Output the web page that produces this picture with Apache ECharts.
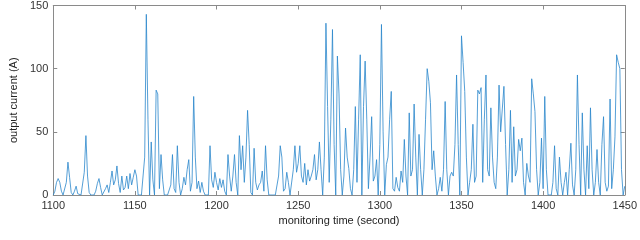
<!DOCTYPE html>
<html>
<head>
<meta charset="utf-8">
<script src="https://cdn.jsdelivr.net/npm/echarts@6/dist/echarts.min.js"></script>
<style>html,body{margin:0;padding:0;background:#fff}#c{width:640px;height:240px}</style>
</head>
<body>
<div id="c"></div>
<script>
const startSecond = 1100;
const xTicks = [1100, 1150, 1200, 1250, 1300, 1350, 1400, 1450];
const yTicks = [0, 50, 100, 150];
const xTitle = 'monitoring time (second)';
const yTitle = 'output current (A)';
// output current (A), one sample per second from 1100 s to 1450 s
const current = [
  0,3,10,13,10,3,0,0,10,26,
  14,2,0,3,7,1,0,0,0,18,
  47,15,2,0,0,0,3,9,13,6,
  0,0,5,8,2,10,19,8,12,23,
  9,2,15,4,6,15,5,17,8,14,
  20,15,0,0,0,0,30,143,60,0,
  42,12,0,83,80,5,32,12,0,0,
  0,0,8,32,5,2,39,10,0,5,
  14,8,20,28,3,10,78,30,5,11,
  2,10,3,0,0,0,39,12,6,18,
  10,4,13,6,12,3,0,32,15,3,
  15,32,10,0,47,20,39,10,30,67,
  40,2,0,37,10,4,8,10,19,3,
  39,12,0,0,0,0,0,0,15,39,
  30,3,5,18,10,0,0,20,39,18,
  25,39,15,10,25,8,20,11,15,20,
  32,12,20,42,20,0,30,136,70,10,
  60,131,40,0,110,80,20,0,15,53,
  30,21,5,0,20,70,10,60,111,0,
  70,106,60,5,30,62,11,15,28,0,
  40,135,50,0,24,30,60,82,5,3,
  14,6,3,19,10,44,15,0,65,15,
  20,72,30,0,48,20,0,20,60,100,
  90,73,20,35,15,0,5,14,3,20,
  74,20,0,15,18,15,40,95,40,0,
  126,105,82,30,0,10,20,56,10,15,
  83,80,85,10,60,95,20,15,69,30,
  10,5,30,87,50,50,86,40,0,20,
  67,10,54,15,20,44,35,45,10,0,
  25,15,10,92,80,66,20,0,10,45,
  5,78,20,0,0,0,10,39,5,0,
  30,10,0,10,18,0,20,41,8,0,
  20,95,40,0,65,20,0,39,5,69,
  20,0,10,36,10,0,40,62,10,3,
  7,76,5,20,46,111,105,100,20,0,
  7
];

const seriesData = current.map((v, i) => [startSecond + i, v]);
const frame = '#8a8a8a';
const font = 'Liberation Sans, Arial, sans-serif';
const plain = v => String(v);
const chart = echarts.init(document.getElementById('c'), null, {renderer: 'canvas'});
const xMin = xTicks[0], xMax = xTicks[xTicks.length - 1];
const yMin = yTicks[0], yMax = yTicks[yTicks.length - 1];
chart.setOption({
  animation: false,
  grid: {left: 36, right: 12, top: 3, bottom: 45, containLabel: false},
  xAxis: [
    {type: 'value', min: xMin, max: xMax, interval: 50, position: 'bottom',
     name: xTitle, nameLocation: 'middle', nameGap: 17,
     nameTextStyle: {fontFamily: font, fontSize: 11, color: '#222'},
     axisLine: {show: true, onZero: false, lineStyle: {color: frame, width: 1}},
     axisTick: {show: true, inside: true, length: 4, lineStyle: {color: frame}},
     axisLabel: {fontFamily: font, fontSize: 11, color: '#333', margin: 5, formatter: plain},
     splitLine: {show: false}},
    {type: 'value', min: xMin, max: xMax, interval: 50, position: 'top',
     axisLine: {show: true, onZero: false, lineStyle: {color: frame, width: 1}},
     axisTick: {show: true, inside: true, length: 4, lineStyle: {color: frame}},
     axisLabel: {show: false}, splitLine: {show: false}}
  ],
  yAxis: [
    {type: 'value', min: yMin, max: yMax, interval: 50, position: 'left',
     name: yTitle, nameLocation: 'middle', nameGap: 22,
     nameTextStyle: {fontFamily: font, fontSize: 11, color: '#222'},
     axisLine: {show: true, onZero: false, lineStyle: {color: frame, width: 1}},
     axisTick: {show: true, inside: true, length: 4, lineStyle: {color: frame}},
     axisLabel: {fontFamily: font, fontSize: 11, color: '#333', margin: 5, formatter: plain},
     splitLine: {show: false}},
    {type: 'value', min: yMin, max: yMax, interval: 50, position: 'right',
     axisLine: {show: true, onZero: false, lineStyle: {color: frame, width: 1}},
     axisTick: {show: true, inside: true, length: 4, lineStyle: {color: frame}},
     axisLabel: {show: false}, splitLine: {show: false}}
  ],
  series: [{
    type: 'line', xAxisIndex: 0, yAxisIndex: 0,
    data: seriesData, showSymbol: false, symbol: 'none',
    lineStyle: {color: '#2a86cc', width: 0.8},
    smooth: false
  }]
});
</script>
</body>
</html>
